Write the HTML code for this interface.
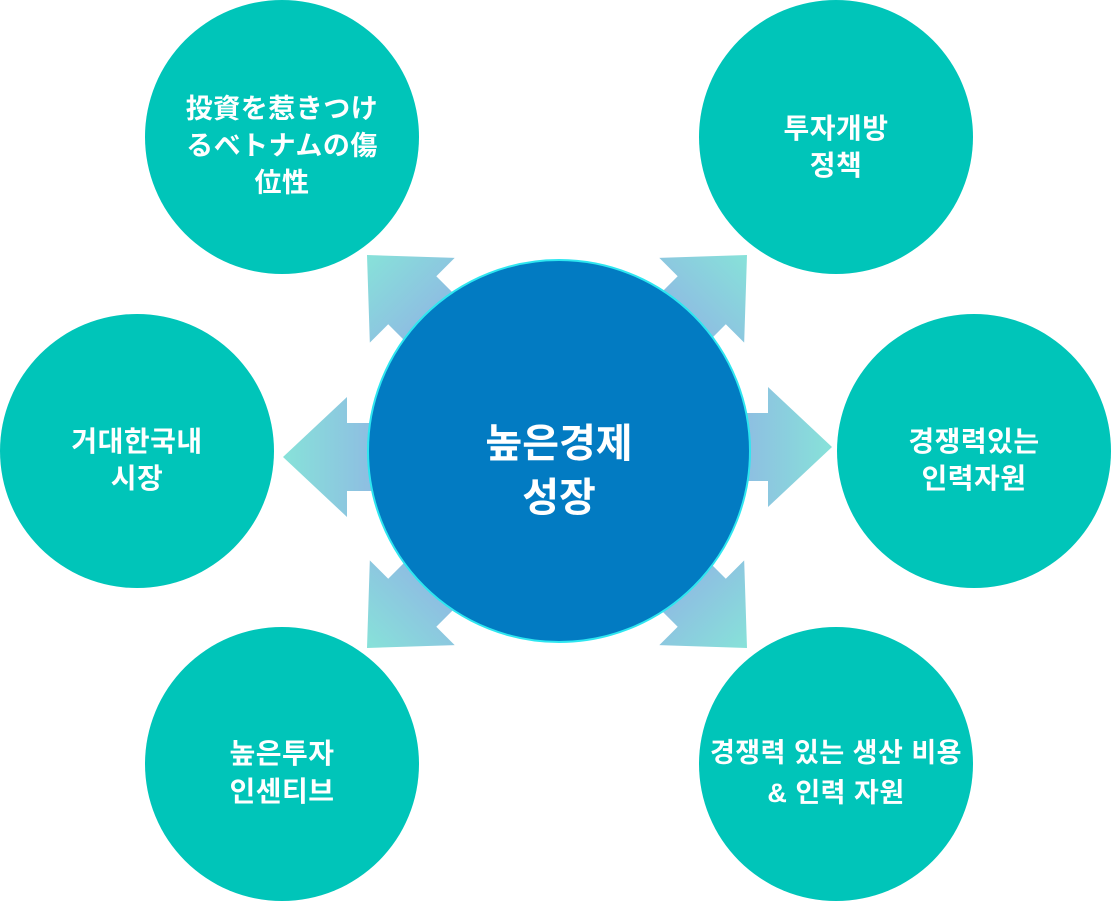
<!DOCTYPE html>
<html><head><meta charset="utf-8"><style>
html,body{margin:0;padding:0;background:#fff;}
svg{display:block;}
text{font-family:"Liberation Sans","Noto Sans CJK KR","Noto Sans CJK JP",sans-serif;font-weight:bold;fill:#fff;text-anchor:middle;}
</style></head><body>
<svg width="1112" height="902" viewBox="0 0 1112 902" xmlns="http://www.w3.org/2000/svg">
<defs>
<linearGradient id="g" gradientUnits="userSpaceOnUse" x1="0" y1="0" x2="90" y2="0">
<stop offset="0" stop-color="#87e2d9"/><stop offset="1" stop-color="#8ebde2"/>
</linearGradient>
<polygon id="a" points="0,0 64,-60 64,-34 130,-34 130,34 64,34 64,60" fill="url(#g)"/>
</defs>
<g fill="#00c5b9">
<circle cx="282" cy="137" r="137"/>
<circle cx="836" cy="137" r="137"/>
<circle cx="137" cy="451" r="137"/>
<circle cx="974" cy="451" r="137"/>
<circle cx="282" cy="764" r="137"/>
<circle cx="836" cy="764" r="137"/>
</g>
<use href="#a" transform="translate(283,457)"/>
<use href="#a" transform="translate(832,447) rotate(180)"/>
<use href="#a" transform="translate(367,255) rotate(45)"/>
<use href="#a" transform="translate(747,255) rotate(135)"/>
<use href="#a" transform="translate(367,648) rotate(-45)"/>
<use href="#a" transform="translate(747,648) rotate(-135)"/>
<circle cx="559" cy="451" r="191" fill="#027bc2" stroke="#2ee6f0" stroke-width="2"/>
<text x="559" y="457" font-size="40">높은경제</text>
<text x="559" y="511" font-size="40">성장</text>
<g font-size="28" letter-spacing="0.5">
<text x="282" y="118" font-size="27">投資を惹きつけ</text>
<text x="282" y="155" font-size="27">るベトナムの傷</text>
<text x="282" y="192" font-size="27">位性</text>
<text x="836" y="138">투자개방</text>
<text x="836" y="175">정책</text>
<text x="137" y="451">거대한국내</text>
<text x="137" y="488">시장</text>
<text x="974" y="451">경쟁력있는</text>
<text x="974" y="488">인력자원</text>
<text x="282" y="763">높은투자</text>
<text x="282" y="801">인센티브</text>
<text x="836" y="762" font-size="27">경쟁력 있는 생산 비용</text>
<text x="836" y="802" font-size="27">&amp; 인력 자원</text>
</g>
</svg>
</body></html>
